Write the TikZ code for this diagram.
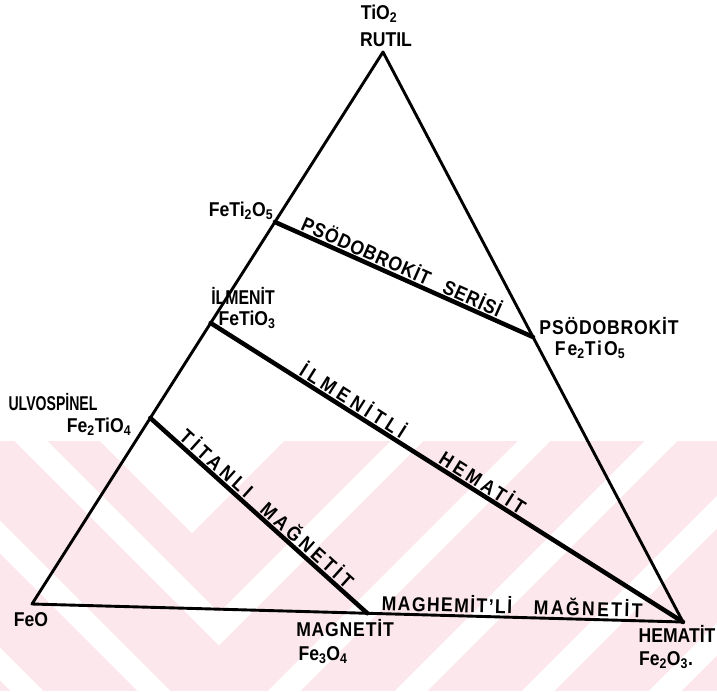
\documentclass[tikz,border=0pt]{standalone}
\usepackage{fontspec}
\usetikzlibrary{calc}
\setmainfont{Liberation Sans}[BoldFeatures={FakeStretch=0.88}]
\definecolor{wmpink}{HTML}{FCE8EC}
\newcommand{\lsp}[2]{{\addfontfeature{LetterSpace=#1}#2}}
\begin{document}
\begin{tikzpicture}[x=1pt,y=-1pt,
  edgeline/.style={line width=2.9pt,line join=round,line cap=round},
  tieline/.style={line width=4.5pt,line cap=round},
  lbl/.style={font=\bfseries\fontsize{20}{22}\selectfont,inner sep=0pt},
  slbl/.style={lbl,sloped,above=3pt}]
\useasboundingbox (0,0) rectangle (717,691);
% watermark
\begin{scope}
  \clip (0,441) rectangle (717,691);
  \fill[wmpink] (0,441) rectangle (717,691);
  \fill[white] (192,533) -- (-8,333) -- (392,333) -- cycle;
  \foreach \v in {629,756,883,1010,1137} {
    \draw[white,line width=23pt,line join=miter] (219-900,\v-900) -- (219,\v) -- (219+1200,\v-1200);
  }
\end{scope}
% vertices
\coordinate (T) at (383,52);
\coordinate (F) at (32,604);
\coordinate (H) at (683,622);
\coordinate (P2) at ($(F)!0.692!(T)$);
\coordinate (IL) at ($(F)!0.509!(T)$);
\coordinate (UL) at ($(F)!0.337!(T)$);
\coordinate (PS) at ($(T)!0.5!(H)$);
\coordinate (MG) at ($(F)!0.515!(H)$);
% triangle
\draw[edgeline] (T) -- (F) -- (H) -- cycle;
% tie lines
\draw[tieline] (P2) -- (PS);
\draw[tieline] (IL) -- (H);
\draw[tieline] (UL) -- (MG);
% corner labels
\node[lbl] (tio2) at (379,14) {TiO\textsubscript{2}};
\node[lbl] (rutil) at (386,40) {RUTIL};
\node[lbl] (feti2o5) at (241,211) {FeTi\textsubscript{2}O\textsubscript{5}};
\node[lbl] (ilmenit) at (243,296) {\scalebox{0.9}[1]{İLMENİT}};
\node[lbl] (fetio3) at (247,320) {FeTiO\textsubscript{3}};
\node[lbl] (ulvo) at (53,402) {\scalebox{0.8}[1]{ULVOSPİNEL}};
\node[lbl] (fe2tio4) at (99,427) {Fe\textsubscript{2}TiO\textsubscript{4}};
\node[lbl] (psright) at (609,326) {\lsp{4}{PSÖDOBROKİT}};
\node[lbl] (fe2tio5) at (590,350) {\lsp{10}{Fe\textsubscript{2}TiO\textsubscript{5}}};
\node[lbl] (feo) at (31,620) {FeO};
\node[lbl] (magnetit) at (345,628) {\lsp{4}{MAGNETİT}};
\node[lbl] (fe3o4) at (323,655) {Fe\textsubscript{3}O\textsubscript{4}};
\node[lbl] (hematit) at (677,634) {HEMATİT};
\node[lbl] (fe2o3) at (666,660) {Fe\textsubscript{2}O\textsubscript{3}.};
% line labels
\path (P2) -- (PS) node[slbl,pos=0.475] (lps) {\lsp{4}{PSÖDOBROKİT}\hspace{16pt}\lsp{4}{SERİSİ}};
\path (IL) -- (H) node[slbl,pos=0.29] (lilm) {\lsp{22}{İLMENİTLİ}}
                  node[slbl,pos=0.564] (lhem) {\lsp{17}{HEMATİT}};
\path (UL) -- (MG) node[slbl,pos=0.273] (ltit) {\lsp{20}{TİTANLI}}
                   node[slbl,pos=0.69] (lmag) {\lsp{18}{MAĞNETİT}};
\path (F) -- (H) node[slbl,pos=0.637] (lmgh) {\lsp{7}{MAGHEMİT'Lİ}}
                 node[slbl,pos=0.854] (lmag2) {\lsp{12}{MAĞNETİT}};
\end{tikzpicture}
\end{document}
